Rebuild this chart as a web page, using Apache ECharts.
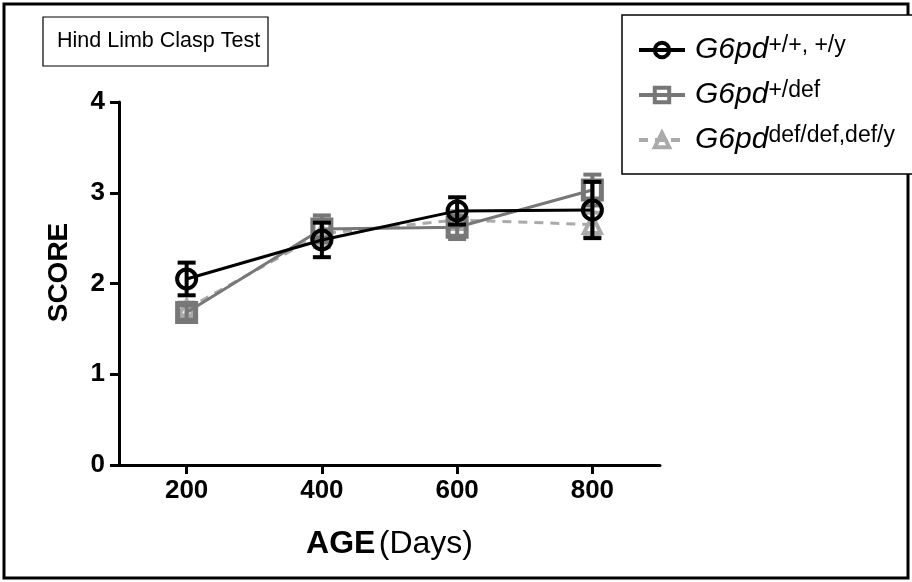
<!DOCTYPE html>
<html>
<head>
<meta charset="utf-8">
<script src="https://cdn.jsdelivr.net/npm/echarts@6/dist/echarts.min.js"></script>
<style>
  html, body { margin: 0; padding: 0; background: #fff; }
  #main { width: 912px; height: 582px; }
</style>
</head>
<body>
<div id="main"></div>
<script>
// ages (days)
var ages = [200, 400, 600, 800];
var xTicks = [200, 400, 600, 800];

// mean score + error (SEM) per genotype
var wtMean = [2.05, 2.48, 2.80, 2.81];
var wtErr = [0.18, 0.19, 0.15, 0.31];
var hetMean = [1.68, 2.60, 2.62, 3.03];
var hetErr = [0.08, 0.15, 0.13, 0.17];
var defMean = [1.72, 2.55, 2.70, 2.65];
var defErr = [0.07, 0.15, 0.10, 0.13];

var FONT = 'Liberation Sans, Arial, sans-serif';

function pts (mean) {
  return ages.map(function (a, i) { return [a, mean[i]]; });
}
function errs (mean, err) {
  return ages.map(function (a, i) { return [a, mean[i] - err[i], mean[i] + err[i]]; });
}
// error bar with caps
function errBar (color, width) {
  return function (params, api) {
    var top = api.coord([api.value(0), api.value(2)]);
    var bot = api.coord([api.value(0), api.value(1)]);
    var hw = 9;
    var st = { stroke: color, lineWidth: width };
    return {
      type: 'group',
      children: [
        { type: 'line', shape: { x1: top[0], y1: top[1], x2: bot[0], y2: bot[1] }, style: st },
        { type: 'line', shape: { x1: top[0] - hw, y1: top[1], x2: top[0] + hw, y2: top[1] }, style: st },
        { type: 'line', shape: { x1: bot[0] - hw, y1: bot[1], x2: bot[0] + hw, y2: bot[1] }, style: st }
      ]
    };
  };
}

var labels = {
  wt: '{a|G6pd}{s|+/+, +/y}',
  het: '{a|G6pd}{s|+/def}',
  def: '{a|G6pd}{s|def/def,def/y}'
};

var chart = echarts.init(document.getElementById('main'));
chart.setOption({
  animation: false,
  backgroundColor: '#fff',
  textStyle: { fontFamily: FONT },
  grid: { left: 119, right: 252, top: 102, bottom: 117 },
  graphic: [
    { type: 'rect', shape: { x: 4, y: 4, width: 904, height: 574 },
      style: { fill: 'none', stroke: '#000', lineWidth: 3 }, silent: true },
    { type: 'rect', shape: { x: 43, y: 17, width: 225, height: 49 },
      style: { fill: '#fff', stroke: '#000', lineWidth: 1.2 } },
    { type: 'text', left: 57, top: 30,
      style: { text: 'Hind Limb Clasp Test', font: '21.5px ' + FONT, fill: '#000' } },
    { type: 'rect', shape: { x: 622, y: 15, width: 300, height: 159 },
      style: { fill: '#fff', stroke: '#000', lineWidth: 1.5 } }
  ],
  legend: {
    data: ['wt', 'het', 'def'],
    orient: 'vertical',
    left: 632,
    top: 29,
    itemWidth: 46,
    itemHeight: 18,
    itemGap: 10,
    lineStyle: { width: 4 },
    itemStyle: { borderWidth: 4 },
    formatter: function (name) { return labels[name]; },
    textStyle: {
      padding: [0, 0, 0, 5],
      rich: {
        a: { fontFamily: FONT, fontSize: 30, fontStyle: 'italic', color: '#000', lineHeight: 32 },
        s: { fontFamily: FONT, fontSize: 23, color: '#000', verticalAlign: 'top', lineHeight: 32, padding: [0, 0, 12, 0] }
      }
    }
  },
  xAxis: {
    type: 'value',
    min: 100,
    max: 900,
    name: '{b|AGE} {r|(Days)}',
    nameLocation: 'middle',
    nameGap: 63,
    nameTextStyle: {
      rich: {
        b: { fontFamily: FONT, fontSize: 32, fontWeight: 'bold', color: '#000' },
        r: { fontFamily: FONT, fontSize: 32, color: '#000' }
      }
    },
    axisLine: { lineStyle: { color: '#000', width: 3 } },
    axisTick: { customValues: xTicks, length: 9, lineStyle: { color: '#000', width: 3 } },
    axisLabel: { customValues: xTicks, margin: 13, fontFamily: FONT, fontSize: 26, fontWeight: 'bold', color: '#000' },
    splitLine: { show: false }
  },
  yAxis: {
    type: 'value',
    min: 0,
    max: 4,
    interval: 1,
    name: 'SCORE',
    nameLocation: 'middle',
    nameGap: 46,
    nameRotate: 90,
    nameTextStyle: { fontFamily: FONT, fontSize: 28, fontWeight: 'bold', color: '#000', padding: [0, 0, 0, 22] },
    axisLine: { show: true, lineStyle: { color: '#000', width: 3 } },
    axisTick: { show: true, length: 9, lineStyle: { color: '#000', width: 3 } },
    axisLabel: { margin: 14, fontFamily: FONT, fontSize: 26, fontWeight: 'bold', color: '#000' },
    splitLine: { show: false }
  },
  series: [
    { type: 'custom', name: 'defErr', data: errs(defMean, defErr), renderItem: errBar('#aaaaaa', 4), z: 2 },
    {
      type: 'line', name: 'def', data: pts(defMean), z: 2,
      symbol: 'triangle', symbolSize: 17,
      lineStyle: { color: '#aaaaaa', width: 3, type: [9, 7] },
      itemStyle: { color: 'rgba(255,255,255,0)', borderColor: '#aaaaaa', borderWidth: 4 }
    },
    { type: 'custom', name: 'hetErr', data: errs(hetMean, hetErr), renderItem: errBar('#777777', 4), z: 3 },
    {
      type: 'line', name: 'het', data: pts(hetMean), z: 3,
      symbol: 'rect', symbolSize: 18,
      lineStyle: { color: '#777777', width: 3 },
      itemStyle: { color: 'rgba(255,255,255,0)', borderColor: '#777777', borderWidth: 5 }
    },
    { type: 'custom', name: 'wtErr', data: errs(wtMean, wtErr), renderItem: errBar('#000000', 4), z: 4 },
    {
      type: 'line', name: 'wt', data: pts(wtMean), z: 4,
      symbol: 'circle', symbolSize: 19,
      lineStyle: { color: '#000', width: 3 },
      itemStyle: { color: 'rgba(255,255,255,0)', borderColor: '#000', borderWidth: 4 }
    }
  ]
});
</script>
</body>
</html>
